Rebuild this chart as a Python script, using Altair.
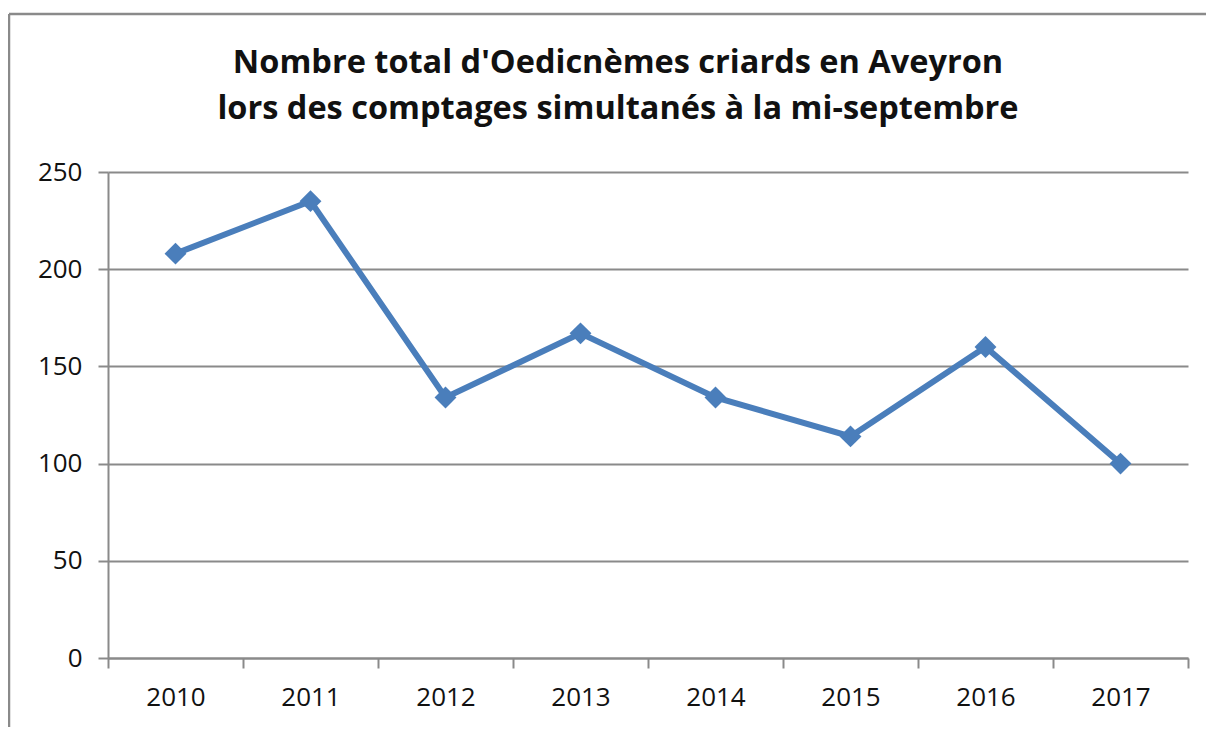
import altair as alt
import pandas as pd

years = ["2010", "2011", "2012", "2013", "2014", "2015", "2016", "2017"]
counts = [208, 235, 134, 167, 134, 114, 160, 100]
title_lines = ["Nombre total d'Oedicnèmes criards en Aveyron",
               "lors des comptages simultanés à la mi-septembre"]
y_ticks = [0, 50, 100, 150, 200, 250]

df = pd.DataFrame({"annee": years, "nombre": counts})

FONT = "Open Sans"
GRAY = "#8a8a8a"
BLUE = "#4a7ebb"

x = alt.X("annee:O", sort=years, title=None,
          scale=alt.Scale(paddingInner=0, paddingOuter=0),
          axis=alt.Axis(labelAngle=0, tickBand="extent", tickSize=10,
                        tickWidth=2, tickColor=GRAY, domainColor=GRAY,
                        domainWidth=2, labelFont=FONT, labelFontSize=26,
                        labelColor="#111111", labelPadding=16, grid=False))
y = alt.Y("nombre:Q", title=None,
          scale=alt.Scale(domain=[0, 250], nice=False),
          axis=alt.Axis(values=y_ticks, tickSize=10, tickWidth=2,
                        tickColor=GRAY, domainColor=GRAY, domainWidth=2,
                        gridColor=GRAY, gridWidth=2, labelFont=FONT,
                        labelFontSize=26, labelColor="#111111",
                        labelPadding=16))

base = alt.Chart(pd.DataFrame({"k": [0]}))
frame_left = base.mark_rule(stroke=GRAY, strokeWidth=2.5).encode(
    x=alt.value(-99), y=alt.value(-158), y2=alt.value(570))
frame_top = base.mark_rule(stroke=GRAY, strokeWidth=2.5).encode(
    x=alt.value(-99), x2=alt.value(1110), y=alt.value(-158))
title = base.mark_text(
    text=title_lines, font=FONT, fontSize=32.5, fontWeight="bold",
    color="#111111", lineHeight=46, align="center", baseline="alphabetic"
).encode(x=alt.value(510), y=alt.value(-99))

line = alt.Chart(df).mark_line(color=BLUE, strokeWidth=6).encode(x=x, y=y)
points = alt.Chart(df).mark_point(shape="diamond", size=480, filled=True,
                                  color=BLUE, opacity=1).encode(x=x, y=y)

chart = alt.layer(frame_left, frame_top, title, line, points).properties(
    width=1080, height=486,
    autosize=alt.AutoSizeParams(type="none"),
    padding={"left": 100, "top": 164, "right": 18, "bottom": 69},
).configure_view(stroke=None)

chart.save("out.html", embed_options={"renderer": "svg", "actions": False})
